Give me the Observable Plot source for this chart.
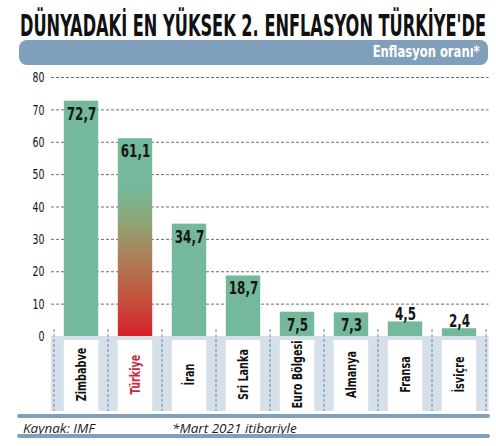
<!DOCTYPE html>
<html>
<head>
<meta charset="utf-8">
<script src="https://cdn.jsdelivr.net/npm/d3@7"></script>
<script src="https://cdn.jsdelivr.net/npm/@observablehq/plot@0.6"></script>
<style>
  html, body { margin: 0; padding: 0; background: #fff; }
  #wrap { position: relative; width: 496px; height: 446px; overflow: hidden; font-family: "DejaVu Sans Condensed", sans-serif; }
  #title { position: absolute; left: 20px; top: 11px; font-weight: bold; font-size: 29.5px; line-height: 30px; color: #111; white-space: nowrap; transform-origin: 0 50%; }
  #band { position: absolute; left: 19px; top: 40px; width: 469px; height: 25px; background: #7f9fba; border-radius: 8px; }
  #bandtxt { position: absolute; right: 8px; top: 3px; color: #fff; font-weight: bold; font-size: 15px; line-height: 18px; white-space: nowrap; transform-origin: 100% 50%; }
  #chart { position: absolute; left: 0; top: 66px; }
  .fline { position: absolute; left: 17px; width: 473px; height: 4px; background: #7f9fba; border-radius: 2px; }
  .foot { position: absolute; top: 419px; font-family: "Open Sans", "DejaVu Sans", sans-serif; font-style: italic; font-size: 13.5px; color: #1a1a1a; white-space: nowrap; }
</style>
</head>
<body>
<div id="wrap">
  <div id="title">DÜNYADAKİ EN YÜKSEK 2. ENFLASYON TÜRKİYE'DE</div>
  <div id="band"><div id="bandtxt">Enflasyon oranı*</div></div>
  <div id="chart"></div>
  <div class="fline" style="top:414px"></div>
  <div class="foot" style="left:23px">Kaynak: IMF</div>
  <div class="foot" style="left:172px">*Mart 2021 itibariyle</div>
  <div class="fline" style="top:434px"></div>
</div>
<script>
const countries = ["Zimbabve", "Türkiye", "İran", "Sri Lanka", "Euro Bölgesi", "Almanya", "Fransa", "İsviçre"];
const values = [72.7, 61.1, 34.7, 18.7, 7.5, 7.3, 4.5, 2.4];
const yTicks = [0, 10, 20, 30, 40, 50, 60, 70, 80];
const highlight = "Türkiye";

const data = countries.map((c, i) => ({country: c, value: values[i]}));
const fmt = v => v.toFixed(1).replace(".", ",");
const FONT = "DejaVu Sans Condensed, sans-serif";
const inset = 9.8;

const plot = Plot.plot({
  width: 496,
  height: 346,
  marginTop: 11,
  marginBottom: 76,
  marginLeft: 51,
  marginRight: 7.5,
  style: {fontFamily: FONT, background: "transparent", overflow: "visible"},
  x: {domain: countries, padding: 0, axis: null},
  y: {domain: [0, 80], axis: null},
  marks: [
    Plot.ruleY(yTicks.filter(t => t > 0), {stroke: "#4a4a4a", strokeWidth: 0.8, strokeDasharray: "3,2"}),
    Plot.axisY(yTicks, {label: null, tickSize: 0, tickPadding: 7, fontSize: 14.5, fill: "#111", stroke: "#111", strokeWidth: 0.35, textAnchor: "end"}),
    Plot.barY(data, {filter: d => d.country !== highlight, x: "country", y: "value", fill: "#74b99b", insetLeft: inset, insetRight: inset}),
    Plot.barY(data, {filter: d => d.country === highlight, x: "country", y: "value", fill: "url(#trGrad)", insetLeft: inset, insetRight: inset}),
    Plot.text(data, {filter: d => d.value >= 7, x: "country", y: "value", text: d => fmt(d.value), lineAnchor: "top", dy: 6, fontSize: 17.5, fontWeight: "bold", fill: "#161616"}),
    Plot.text(data, {filter: d => d.value < 7, x: "country", y: "value", text: d => fmt(d.value), lineAnchor: "bottom", dy: -2, fontSize: 17.5, fontWeight: "bold", fill: "#161616"}),
    Plot.text(countries, {x: d => d, frameAnchor: "bottom", dy: 38, rotate: -90, textAnchor: "middle", lineAnchor: "middle", fontSize: 14.5, fontWeight: "bold", fill: d => d === highlight ? "#c8283f" : "#111"})
  ]
});

document.getElementById("chart").appendChild(plot);

// condense text (the original uses a very narrow typeface)
function condense(els, k) {
  els.forEach(el => {
    const L = el.getComputedTextLength();
    if (L > 0) {
      el.setAttribute("textLength", (L * k).toFixed(2));
      el.setAttribute("lengthAdjust", "spacingAndGlyphs");
    }
  });
}
const textGroups = plot.querySelectorAll('g[aria-label="text"]');
condense(plot.querySelectorAll('g[aria-label="y-axis tick label"] text'), 0.72);
if (textGroups[0]) condense(textGroups[0].querySelectorAll("text"), 0.76);
if (textGroups[1]) condense(textGroups[1].querySelectorAll("text"), 0.76);
if (textGroups[2]) condense(textGroups[2].querySelectorAll("text"), 0.74);

function fitWidth(id, w) {
  const el = document.getElementById(id);
  const nat = el.getBoundingClientRect().width;
  el.style.transform = `scaleX(${w / nat})`;
}
fitWidth("title", 466);
fitWidth("bandtxt", 107);

// decorations built from the plot's own scales
const svg = d3.select(plot);
const xs = plot.scale("x");
const ys = plot.scale("y");
const y0 = ys.apply(0);
const panelH = 75;
const bw = xs.bandwidth;
const [rx0, rx1] = xs.range;

const defs = svg.append("defs");
const grad = defs.append("linearGradient").attr("id", "trGrad").attr("x1", 0).attr("y1", 0).attr("x2", 0).attr("y2", 1);
[[0, "#74b99b"], [0.25, "#74b99b"], [0.42, "#8fa577"], [0.62, "#ac7c55"], [0.82, "#c5503c"], [1, "#d41f2b"]]
  .forEach(([o, c]) => grad.append("stop").attr("offset", o).attr("stop-color", c));

const panel = svg.insert("g", ":first-child");
panel.append("rect").attr("x", rx0).attr("y", y0).attr("width", rx1 - rx0).attr("height", panelH).attr("fill", "#d6e0ea");
countries.forEach(c => {
  panel.append("rect").attr("x", xs.apply(c) + inset).attr("y", y0 + 4).attr("width", bw - 2 * inset).attr("height", panelH - 4).attr("fill", "#fff");
});
const seps = countries.map(c => xs.apply(c)).concat([xs.apply(countries[countries.length - 1]) + bw]);
seps.forEach(sx => {
  panel.append("line").attr("x1", sx).attr("x2", sx).attr("y1", y0 - 7).attr("y2", y0 + panelH)
    .attr("stroke", "#5d7e9c").attr("stroke-width", 0.9).attr("stroke-dasharray", "3,2");
});
</script>
</body>
</html>
